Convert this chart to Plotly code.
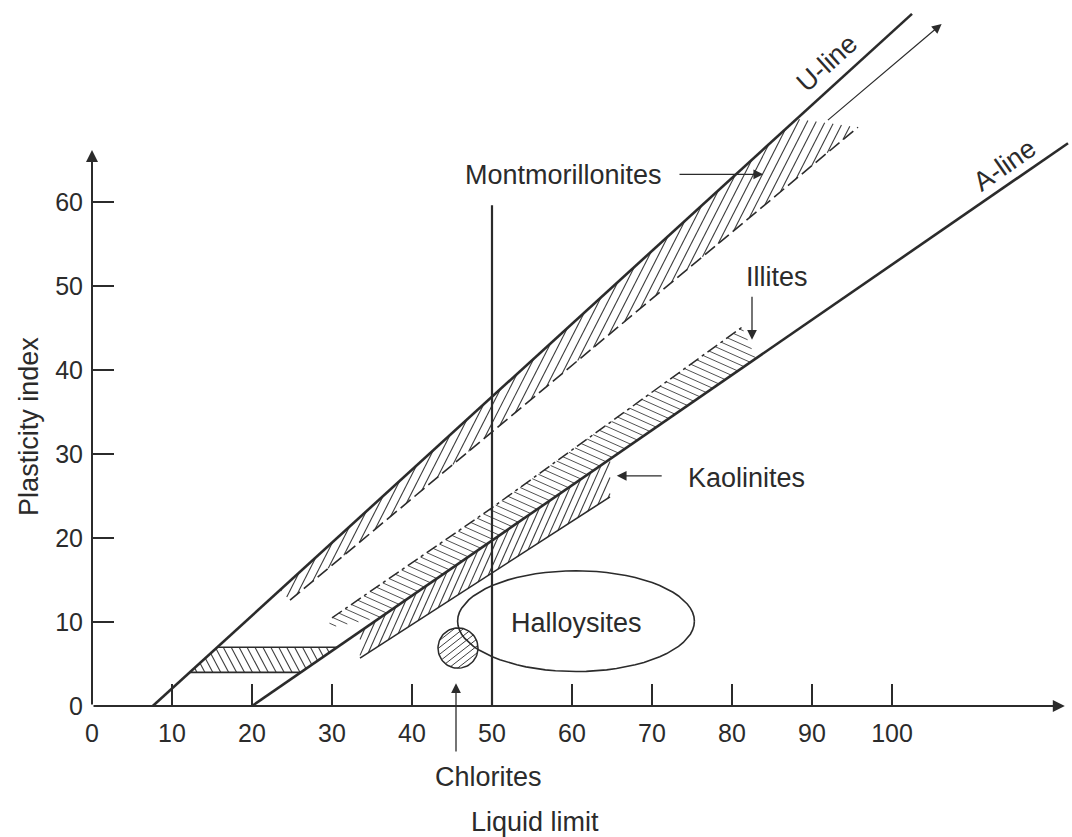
import numpy as np
import plotly.graph_objects as go

# ---- chart data: liquid limit (LL) vs plasticity index (PI) ----
u_line_ll = [7.6, 102.5]
u_line_pi = [0.0, 82.4]
a_line_ll = [20.0, 122.0]
a_line_pi = [0.0, 67.0]

ll50_ll = [50.0, 50.0]
ll50_pi = [0.0, 59.6]

# montmorillonite zone: upper edge on the U-line, dashed lower edge
mont_upper_ll = [23.5, 88.1]
mont_lower_ll = [24.75, 95.75]
mont_lower_pi = [12.6, 68.9]

# illite zone: dash-dot upper edge, base on the A-line
illite_upper_ll = [29.4, 30.0, 50.0, 81.25]
illite_upper_pi = [9.3, 10.5, 23.6, 45.1]
illite_base_ll = [36.0, 83.0]

# kaolinite zone: top on the A-line, solid lower edge
kaol_ll = [33.5, 64.75]
kaol_lower_pi = [5.7, 24.9]

# CL-ML strip between U-line and A-line
clml_pi = [4.0, 7.0]

# chlorites (circle) and halloysites (ellipse)
chlorite_ll, chlorite_pi = 45.75, 6.9
chlorite_r_ll, chlorite_r_pi = 2.5, 2.4
halloy_ll, halloy_pi = 60.5, 10.1
halloy_r_ll, halloy_r_pi = 14.8, 6.0

x_ticks = list(range(0, 101, 10))
y_ticks = list(range(0, 61, 10))

# ---- figure geometry ----
W, H = 1072, 837
ML, MB = 92, 131
x_range = [0.0, 122.5]
y_range = [0.0, 84.05]
sx = (W - ML) / (x_range[1] - x_range[0])
sy = (H - MB) / (y_range[1] - y_range[0])

INK = "#2b2b2b"
HATCH = "#3d3d3d"
FONT = "Liberation Sans, Arial, Helvetica, sans-serif"


def line_at(lls, pis, ll):
    return pis[0] + (np.asarray(ll) - lls[0]) * (pis[1] - pis[0]) / (lls[1] - lls[0])


def ll_at(lls, pis, pi):
    return lls[0] + (np.asarray(pi) - pis[0]) * (lls[1] - lls[0]) / (pis[1] - pis[0])


def U(ll):
    return float(line_at(u_line_ll, u_line_pi, ll))


def A(ll):
    return float(line_at(a_line_ll, a_line_pi, ll))


def to_paper_x(ll):
    return (ll - x_range[0]) / (x_range[1] - x_range[0])


def to_paper_y(pi):
    return (pi - y_range[0]) / (y_range[1] - y_range[0])


def hatch(xs, ys, angle, gap):
    """Parallel hatch lines clipped to a polygon (angle in screen degrees, gap in px)."""
    P = np.column_stack([np.asarray(xs) * sx, np.asarray(ys) * sy])
    Q = np.roll(P, -1, axis=0)
    a = np.deg2rad(angle)
    d = np.array([np.cos(a), np.sin(a)])
    n = np.array([-np.sin(a), np.cos(a)])
    sp, sq = P @ n, Q @ n
    ox, oy = [], []
    for k in range(int(np.floor(sp.min() / gap)) - 1, int(np.ceil(sp.max() / gap)) + 1):
        c = (k + 0.5) * gap
        pts = []
        for p0, p1, s0, s1 in zip(P, Q, sp, sq):
            if (s0 - c) * (s1 - c) < 0:
                t = (c - s0) / (s1 - s0)
                pts.append(p0 + t * (p1 - p0))
        pts.sort(key=lambda p: p @ d)
        for i in range(0, len(pts) - 1, 2):
            ox += [pts[i][0] / sx, pts[i + 1][0] / sx, None]
            oy += [pts[i][1] / sy, pts[i + 1][1] / sy, None]
    return ox, oy


fig = go.Figure()


def add_line(x, y, width, dash="solid", color=INK):
    fig.add_trace(go.Scatter(x=x, y=y, mode="lines", hoverinfo="skip",
                             line=dict(color=color, width=width, dash=dash)))


# ---- hatched zones ----
mont_x = [mont_upper_ll[0], mont_upper_ll[1], mont_lower_ll[1], mont_lower_ll[0]]
mont_y = [U(mont_upper_ll[0]), U(mont_upper_ll[1]), mont_lower_pi[1], mont_lower_pi[0]]
hx, hy = hatch(mont_x, mont_y, 63, 8.0)
add_line(hx, hy, 1.1, color=HATCH)

ill_x = illite_upper_ll + [illite_base_ll[1], illite_base_ll[0]]
ill_y = illite_upper_pi + [A(illite_base_ll[1]), A(illite_base_ll[0])]
hx, hy = hatch(ill_x, ill_y, -24, 6.5)
add_line(hx, hy, 0.9, color=HATCH)

kao_x = [kaol_ll[0], kaol_ll[1], kaol_ll[1], kaol_ll[0]]
kao_y = [A(kaol_ll[0]), A(kaol_ll[1]), kaol_lower_pi[1], kaol_lower_pi[0]]
hx, hy = hatch(kao_x, kao_y, 66, 6.5)
add_line(hx, hy, 1.1, color=HATCH)

cl_lo, cl_hi = clml_pi
clml_x = [float(ll_at(u_line_ll, u_line_pi, cl_hi)), float(ll_at(a_line_ll, a_line_pi, cl_hi)),
          float(ll_at(a_line_ll, a_line_pi, cl_lo)), float(ll_at(u_line_ll, u_line_pi, cl_lo))]
clml_y = [cl_hi, cl_hi, cl_lo, cl_lo]
hx, hy = hatch(clml_x, clml_y, -62, 7.0)
add_line(hx, hy, 1.1, color=HATCH)

th = np.linspace(0, 2 * np.pi, 73)
chl_x = chlorite_ll + chlorite_r_ll * np.cos(th)
chl_y = chlorite_pi + chlorite_r_pi * np.sin(th)
hx, hy = hatch(chl_x[:-1], chl_y[:-1], 38, 5.5)
add_line(hx, hy, 1.0, color=HATCH)

# ---- zone boundaries ----
add_line(mont_lower_ll, mont_lower_pi, 1.6, dash="13px,5px")
add_line(illite_upper_ll[1:], illite_upper_pi[1:], 1.5, dash="12px,4px,3px,4px")
add_line(kaol_ll, kaol_lower_pi, 1.6)
add_line([clml_x[0], clml_x[1]], [cl_hi, cl_hi], 1.6)
add_line([clml_x[3], clml_x[2]], [cl_lo, cl_lo], 1.6)
add_line(list(chl_x), list(chl_y), 1.5)
add_line(list(halloy_ll + halloy_r_ll * np.cos(th)),
         list(halloy_pi + halloy_r_pi * np.sin(th)), 1.6)

# ---- main lines ----
add_line(u_line_ll, u_line_pi, 2.6)
add_line(a_line_ll, a_line_pi, 2.6)
add_line(ll50_ll, ll50_pi, 2.2)

annotations = []


def arrow(x0, y0, x1, y1, width=1.3, size=1.4):
    annotations.append(dict(x=x1, y=y1, ax=x0, ay=y0, xref="x", yref="y",
                            axref="x", ayref="y", text="", showarrow=True,
                            arrowhead=2, arrowsize=size, arrowwidth=width,
                            arrowcolor=INK, standoff=0, startstandoff=0))


def label(x, y, text, size=27, angle=0):
    # positioned in paper units so labels outside the axis ranges stay visible
    annotations.append(dict(x=to_paper_x(x), y=to_paper_y(y), xref="paper", yref="paper",
                            text=text, showarrow=False, textangle=angle,
                            xanchor="center", yanchor="middle",
                            font=dict(family=FONT, size=size, color=INK)))


# axes with arrowheads
arrow(0, 0, 121.6, 0, width=2.0, size=1.2)
arrow(0, 0, 0, 66.2, width=2.0, size=1.2)

# pointers
arrow(91.8, 69.6, 106.2, 81.2, width=1.2, size=1.6)
arrow(73.25, 63.3, 83.9, 63.3, width=1.3, size=1.5)
arrow(82.5, 48.9, 82.5, 43.6, width=1.3, size=1.5)
arrow(71.4, 27.4, 65.6, 27.4, width=1.3, size=1.5)
arrow(45.5, -5.6, 45.5, 2.7, width=1.3, size=1.5)

label(91.9, 76.5, "U-line", angle=-42)
label(114.1, 64.4, "A-line", angle=-35)
label(58.9, 63.2, "Montmorillonites")
label(85.6, 51.1, "Illites")
label(81.75, 27.1, "Kaolinites")
label(60.6, 9.9, "Halloysites")
label(49.6, -8.5, "Chlorites")
label(55.4, -13.8, "Liquid limit")
label(-7.8, 33.3, "Plasticity index", angle=-90)

fig.update_layout(
    width=W, height=H, autosize=False,
    margin=dict(l=ML, r=0, t=0, b=MB, pad=0),
    paper_bgcolor="white", plot_bgcolor="white",
    showlegend=False,
    annotations=annotations,
    xaxis=dict(range=x_range, showgrid=False, zeroline=False, showline=False,
               tickmode="array", tickvals=x_ticks, ticktext=[str(v) for v in x_ticks],
               ticks="inside", ticklen=22, tickwidth=1.5, tickcolor=INK,
               ticklabelstandoff=10,
               tickfont=dict(family=FONT, size=25, color=INK), fixedrange=True),
    yaxis=dict(range=y_range, showgrid=False, zeroline=False, showline=False,
               tickmode="array", tickvals=y_ticks, ticktext=[str(v) for v in y_ticks],
               ticks="inside", ticklen=22, tickwidth=1.5, tickcolor=INK,
               ticklabelstandoff=8,
               tickfont=dict(family=FONT, size=25, color=INK), fixedrange=True),
)

fig.write_html("out.html")
